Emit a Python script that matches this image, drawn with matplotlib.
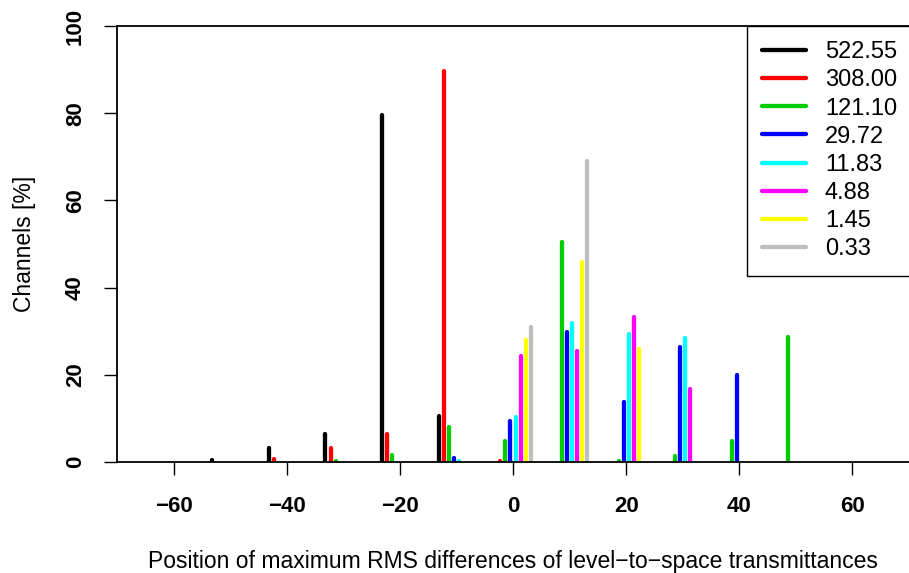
import matplotlib
matplotlib.use("Agg")
import matplotlib.pyplot as plt
from matplotlib.lines import Line2D

plt.rcParams['font.family'] = ['Liberation Sans', 'DejaVu Sans']

labels = ["522.55", "308.00", "121.10", "29.72", "11.83", "4.88", "1.45", "0.33"]
colors = ["#000000", "#FF0000", "#00CD00", "#0000FF", "#00FFFF", "#FF00FF", "#FFFF00", "#BEBEBE"]

black_x = [-50, -40, -30, -20, -10]
black_y = [0.5, 3.1, 6.35, 79.5, 10.5]
red_x = [-40, -30, -20, -10, 0]
red_y = [0.6, 3.3, 6.35, 89.7, 0.2]
green_x = [-30, -20, -10, 0, 10, 20, 30, 40, 50]
green_y = [0.2, 1.7, 8.0, 4.75, 50.4, 0.3, 1.3, 4.9, 28.7]
blue_x = [-10, 0, 10, 20, 30, 40]
blue_y = [1.0, 9.5, 29.8, 13.7, 26.3, 19.9]
cyan_x = [-10, 0, 10, 20, 30]
cyan_y = [0.2, 10.25, 31.9, 29.3, 28.5]
magenta_x = [-10, 0, 10, 20, 30]
magenta_y = [0.1, 24.4, 25.5, 33.3, 16.7]
yellow_x = [0, 10, 20]
yellow_y = [28.0, 45.9, 26.0]
gray_x = [0, 10]
gray_y = [31.0, 69.0]

series_x = [black_x, red_x, green_x, blue_x, cyan_x, magenta_x, yellow_x, gray_x]
series_y = [black_y, red_y, green_y, blue_y, cyan_y, magenta_y, yellow_y, gray_y]

xticks = [-60, -40, -20, 0, 20, 40, 60]
yticks = [0, 20, 40, 60, 80, 100]

W, H = 909, 573
fig = plt.figure(figsize=(W / 100, H / 100), dpi=100)
ax = fig.add_axes([117 / W, (H - 462) / H, (909 - 117) / W, (462 - 26) / H])

lw = 3.1
step = 0.9
n = len(labels)
for i, (xs, ys, c) in enumerate(zip(series_x, series_y, colors)):
    off = (i - (n - 1) / 2) * step
    ax.vlines([x + off for x in xs], 0, ys, colors=c, linewidth=lw,
              capstyle='round', zorder=2)

ax.set_xlim(-70, 70)
ax.set_ylim(0, 100)
ax.set_xticks(xticks)
ax.set_xticklabels([str(t).replace('-', '\u2212') for t in xticks])
ax.set_yticks(yticks)
ax.set_yticklabels([str(t) for t in yticks], rotation=90, va='center')

for s in ['left', 'top', 'bottom']:
    ax.spines[s].set_linewidth(1.3)
    ax.spines[s].set_color('black')
ax.spines['right'].set_visible(False)

ax.tick_params(axis='both', direction='out', length=9.4, width=1.0, labelsize=16)
ax.tick_params(axis='x', pad=15)
ax.tick_params(axis='y', pad=13)
for lab in ax.get_xticklabels() + ax.get_yticklabels():
    lab.set_fontweight('bold')

ax.set_xlabel("Position of maximum RMS differences of level\u2212to\u2212space transmittances",
              fontsize=16.5, labelpad=24)
ax.set_ylabel("Channels [%]", fontsize=16.5, labelpad=21)

handles = [Line2D([0], [0], color=c, linewidth=lw, solid_capstyle='round') for c in colors]
leg = ax.legend(handles, labels, loc='upper left',
                bbox_to_anchor=(747 / W, (H - 26) / H), bbox_transform=fig.transFigure,
                borderaxespad=0, fontsize=17, handlelength=1.85, handletextpad=0.8,
                labelspacing=0.26, borderpad=0.65, fancybox=False, framealpha=1,
                edgecolor='black')
leg.get_frame().set_linewidth(1.0)

fig.savefig("out.png", dpi=100)
